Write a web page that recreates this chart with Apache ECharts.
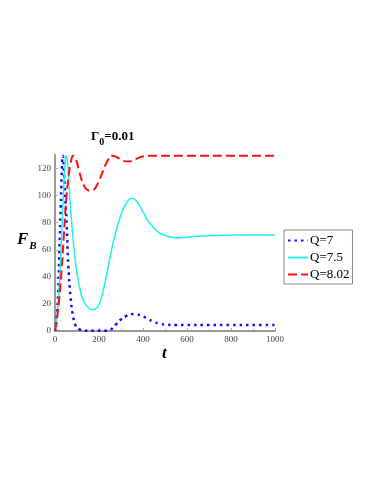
<!DOCTYPE html>
<html>
<head>
<meta charset="utf-8">
<script src="https://cdn.jsdelivr.net/npm/echarts@6/dist/echarts.min.js"></script>
<style>
  html, body { margin: 0; padding: 0; background: #fff; }
  #chart { width: 382px; height: 494px; }
</style>
</head>
<body>
<div id="chart"></div>
<script>
// values: [t, F_B]
const q7 = [
  [0, 0], [8, 10], [15, 32], [20, 60], [26, 91], [30, 113], [35, 129.5],
  [45, 104], [53, 79], [61, 47], [71, 25], [83, 10], [94, 4], [114, 1],
  [136, 0.2], [170, 0.1], [200, 0.1], [230, 0.2], [253, 1], [277, 4.9],
  [300, 8.6], [323, 11], [345, 12.3], [358, 12.6], [371, 12.3], [397, 11],
  [424, 8.6], [452, 6.6], [477, 5.4], [505, 4.7], [550, 4.4], [600, 4.4],
  [700, 4.4], [800, 4.4], [900, 4.4], [1000, 4.4]
];
const q75 = [
  [0, 0], [10, 12], [20, 35], [30, 70], [35, 89], [40, 107], [45, 121],
  [50, 129.5], [55, 127], [60, 118], [70, 92], [80, 72], [90, 55], [100, 43],
  [115, 30], [130, 22], [150, 17.5], [170, 15.7], [190, 17], [210, 24],
  [235, 42], [260, 62], [288, 80], [310, 90], [330, 96], [348, 98], [370, 96],
  [400, 88], [420, 82], [450, 76], [480, 72], [523, 69.5], [553, 68.8],
  [600, 69.3], [700, 70.3], [800, 70.8], [900, 71], [1000, 71]
];
const q802 = [
  [0, 0], [10, 10], [20, 25], [30, 45], [40, 70], [50, 95], [60, 112],
  [70, 123], [83, 129.5], [95, 127], [110, 118], [130, 108], [150, 104],
  [162, 103.8], [180, 105], [200, 111], [220, 119], [240, 126], [258, 129.5],
  [280, 128.5], [305, 126], [333, 125.2], [360, 126.5], [390, 128.5],
  [424, 129.4], [450, 129.5], [600, 129.5], [800, 129.5], [1000, 129.5]
];
const seriesNames = ['Q=7', 'Q=7.5', 'Q=8.02'];

const serif = '"Liberation Serif", "DejaVu Serif", serif';
const chart = echarts.init(document.getElementById('chart'));

chart.setOption({
  backgroundColor: '#fff',
  animation: false,
  grid: { left: 55, right: 107, top: 155, bottom: 163 },
  legend: {
    orient: 'vertical', left: 284, top: 230,
    borderColor: '#888', borderWidth: 1, padding: [4, 3, 3, 3],
    itemWidth: 20, itemHeight: 12, itemGap: 4,
    itemStyle: { opacity: 0 },
    textStyle: { fontFamily: serif, fontSize: 13, color: '#000', padding: [0, 0, 0, -3] },
    data: seriesNames
  },
  xAxis: {
    type: 'value', min: 0, max: 1000, interval: 200,
    axisLine: { lineStyle: { color: '#999', width: 2 } },
    axisTick: { inside: true, length: 3, lineStyle: { color: '#aaa' } },
    minorTick: { show: true, splitNumber: 2, length: 2, lineStyle: { color: '#aaa' } },
    splitLine: { show: false },
    axisLabel: { fontFamily: serif, fontSize: 9, color: '#444', margin: 4, formatter: v => String(v) }
  },
  yAxis: {
    type: 'value', min: 0, max: 130, interval: 20,
    axisLine: { show: true, lineStyle: { color: '#999', width: 2 } },
    axisTick: { show: true, inside: true, length: 3, lineStyle: { color: '#aaa' } },
    splitLine: { show: false },
    axisLabel: { fontFamily: serif, fontSize: 9, color: '#444', margin: 4, showMaxLabel: false }
  },
  series: [
    {
      name: seriesNames[0], type: 'line', data: q7, smooth: true, symbol: 'none',
      itemStyle: { color: '#1010ff' },
      lineStyle: { color: '#1010ff', width: 2.5, type: [2.5, 4] }
    },
    {
      name: seriesNames[1], type: 'line', data: q75, smooth: true, symbol: 'none',
      itemStyle: { color: '#20f0f0' },
      lineStyle: { color: '#20f0f0', width: 1.5 }
    },
    {
      name: seriesNames[2], type: 'line', data: q802, smooth: true, symbol: 'none',
      itemStyle: { color: '#ff1010' },
      lineStyle: { color: '#ff1010', width: 2, type: [9, 4] }
    }
  ],
  graphic: [
    {
      type: 'text', left: 91, top: 130,
      style: {
        text: '{a|Γ}{s|0}{a|=0.01}',
        rich: {
          a: { fontFamily: serif, fontSize: 13, fontWeight: 'bold', fill: '#000' },
          s: { fontFamily: serif, fontSize: 10, fontWeight: 'bold', fill: '#000', padding: [12, 0, 0, 0] }
        }
      }
    },
    {
      type: 'text', left: 17, top: 231,
      style: {
        text: '{a|F}{s|B}',
        rich: {
          a: { fontFamily: serif, fontSize: 17, fontWeight: 'bold', fontStyle: 'italic', fill: '#000' },
          s: { fontFamily: serif, fontSize: 11, fontWeight: 'bold', fontStyle: 'italic', fill: '#000', padding: [14, 0, 0, 1] }
        }
      }
    },
    {
      type: 'text', left: 162, top: 345,
      style: { text: 't', fontFamily: serif, fontSize: 17, fontWeight: 'bold', fontStyle: 'italic', fill: '#000' }
    }
  ]
});
</script>
</body>
</html>
